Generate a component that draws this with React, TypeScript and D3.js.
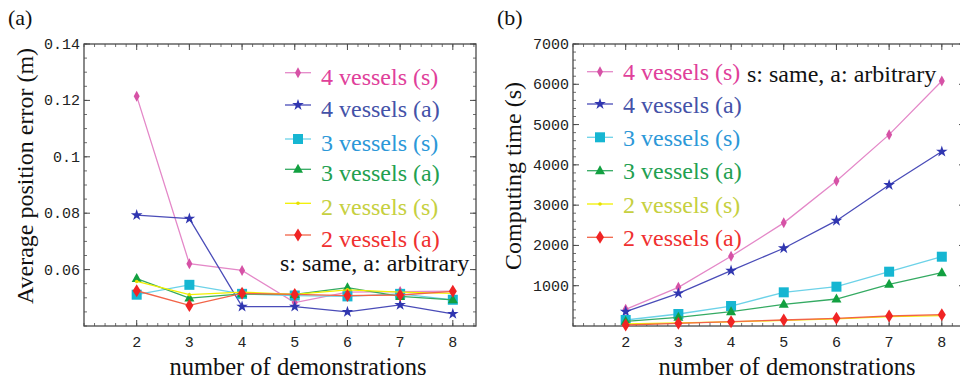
import React from 'react';
import * as d3 from 'd3';

// demonstrations on the x axis (both panels)
const demos = [2, 3, 4, 5, 6, 7, 8];

// (a) average position error (m)
const errPink4s = [0.1215, 0.0621, 0.0597, 0.0483, 0.052, 0.0522, 0.0524];
const errBlue4a = [0.0793, 0.0781, 0.0469, 0.0469, 0.045, 0.0475, 0.0443];
const errCyan3s = [0.0511, 0.0546, 0.0514, 0.0508, 0.0505, 0.0514, 0.0493];
const errGreen3a = [0.0568, 0.0499, 0.0514, 0.0512, 0.0536, 0.0505, 0.0493];
const errYellow2s = [0.0558, 0.0511, 0.052, 0.0512, 0.0528, 0.052, 0.0516];
const errRed2a = [0.0525, 0.0473, 0.0516, 0.0512, 0.0508, 0.051, 0.0523];

// (b) computing time (s)
const timePink4s = [414, 960, 1730, 2560, 3600, 4750, 6080];
const timeBlue4a = [356, 812, 1373, 1930, 2614, 3500, 4330];
const timeCyan3s = [149, 298, 496, 836, 976, 1348, 1720];
const timeGreen3a = [115, 215, 356, 538, 670, 1034, 1323];
const timeYellow2s = [50, 80, 100, 140, 175, 235, 256];
const timeRed2a = [25, 66, 107, 149, 190, 248, 281];

const seriesNames = ['4 vessels (s)', '4 vessels (a)', '3 vessels (s)', '3 vessels (a)', '2 vessels (s)', '2 vessels (a)'];
const errTicks = [0.06, 0.08, 0.1, 0.12, 0.14];
const timeTicks = [1000, 2000, 3000, 4000, 5000, 6000, 7000];

type Sty = { line: string; mark: string; text: string; shape: string };
const styles: Sty[] = [
  { line: '#e488c8', mark: '#d652a6', text: '#e0409a', shape: 'diamond' },
  { line: '#4a4cb8', mark: '#3036b0', text: '#4452a8', shape: 'star' },
  { line: '#6cd2e8', mark: '#16b6d2', text: '#2c98d8', shape: 'square' },
  { line: '#34aa62', mark: '#12a040', text: '#22a050', shape: 'triangle' },
  { line: '#f2f000', mark: '#e6e000', text: '#c6d040', shape: 'dot' },
  { line: '#f26448', mark: '#f02424', text: '#f03030', shape: 'bigdiamond' },
];

const serif: React.CSSProperties = { fontFamily: "'Liberation Serif', serif" };
const mono: React.CSSProperties = { fontFamily: "'Liberation Mono', monospace" };

function Marker({ shape, x, y, color }: { shape: string; x: number; y: number; color: string }) {
  if (shape === 'diamond')
    return <path d={`M${x},${y - 5.5}L${x + 3},${y}L${x},${y + 5.5}L${x - 3},${y}Z`} fill={color} />;
  if (shape === 'bigdiamond')
    return <path d={`M${x},${y - 6.5}L${x + 4},${y}L${x},${y + 6.5}L${x - 4},${y}Z`} fill={color} />;
  if (shape === 'square') return <rect x={x - 5} y={y - 5} width={10} height={10} fill={color} />;
  if (shape === 'triangle')
    return <path d={`M${x},${y - 5.5}L${x + 5},${y + 3.5}L${x - 5},${y + 3.5}Z`} fill={color} />;
  if (shape === 'star') {
    const p = d3.symbol().type(d3.symbolStar).size(42)();
    return <path d={p || ''} transform={`translate(${x},${y})`} fill={color} />;
  }
  return <circle cx={x} cy={y} r={1.8} fill={color} />;
}

type PanelProps = {
  x0: number;
  label: string;
  yTitle: string;
  yTitleX: number;
  series: number[][];
  yDomain: [number, number];
  yTicks: number[];
  yMinorStep: number;
  fmt: (v: number) => string;
  legendX: number;
  legendLines: number[];
  legendBaseOff: number;
  noteX: number;
  noteY: number;
};

function Panel(p: PanelProps) {
  const top = 44, bottom = 326, w = 392;
  const x = d3.scaleLinear().domain([1, 8.44]).range([p.x0, p.x0 + w]);
  const y = d3.scaleLinear().domain(p.yDomain).range([bottom, top]);
  const line = d3.line<number>().x((_, i) => x(demos[i])).y(d => y(d));
  const xMinor = d3.range(1, 8.44, 0.2);
  const yMinor = d3.range(p.yDomain[0], p.yDomain[1] + 1e-9, p.yMinorStep);
  const right = p.x0 + w;
  const frame = '#4a4a4a';
  return (
    <g>
      <text x={p.x0 - 76} y={25} style={serif} fontSize={22} fill="#111">{p.label}</text>
      <rect x={p.x0} y={top} width={w} height={bottom - top} fill="none" stroke={frame} strokeWidth={1.3} />
      {xMinor.map((v, i) => (
        <g key={'xm' + i} stroke={frame} strokeWidth={0.8}>
          <line x1={x(v)} x2={x(v)} y1={bottom} y2={bottom - 3} />
          <line x1={x(v)} x2={x(v)} y1={top} y2={top + 3} />
        </g>
      ))}
      {demos.map(v => (
        <g key={'xt' + v}>
          <line x1={x(v)} x2={x(v)} y1={bottom} y2={bottom - 6} stroke={frame} />
          <line x1={x(v)} x2={x(v)} y1={top} y2={top + 6} stroke={frame} />
          <text x={x(v)} y={347} textAnchor="middle" style={mono} fontSize={15} fill="#222">{v}</text>
        </g>
      ))}
      {yMinor.map((v, i) => (
        <g key={'ym' + i} stroke={frame} strokeWidth={0.8}>
          <line x1={p.x0} x2={p.x0 + 3} y1={y(v)} y2={y(v)} />
          <line x1={right} x2={right - 3} y1={y(v)} y2={y(v)} />
        </g>
      ))}
      {p.yTicks.map(v => (
        <g key={'yt' + v}>
          <line x1={p.x0} x2={p.x0 + 6} y1={y(v)} y2={y(v)} stroke={frame} />
          <line x1={right} x2={right - 6} y1={y(v)} y2={y(v)} stroke={frame} />
          <text x={p.x0 - 4} y={y(v) + 5} textAnchor="end" style={mono} fontSize={15} fill="#222">{p.fmt(v)}</text>
        </g>
      ))}
      <text x={p.x0 + 214} y={374.5} textAnchor="middle" style={serif} fontSize={24.5} fill="#111">number of demonstrations</text>
      <text transform={`translate(${p.yTitleX},176) rotate(-90)`} textAnchor="middle" dy="0.35em" style={serif} fontSize={24} fill="#111">{p.yTitle}</text>
      {p.series.map((s, k) => (
        <g key={'s' + k}>
          <path d={line(s) || ''} fill="none" stroke={styles[k].line} strokeWidth={1.3} />
          {s.map((v, i) => (
            <Marker key={i} shape={styles[k].shape} x={x(demos[i])} y={y(v)} color={styles[k].mark} />
          ))}
        </g>
      ))}
      {seriesNames.map((name, k) => {
        const ly = p.legendLines[k];
        return (
          <g key={'lg' + k}>
            <line x1={p.legendX} x2={p.legendX + 26} y1={ly} y2={ly} stroke={styles[k].line} strokeWidth={1.3} />
            <Marker shape={styles[k].shape} x={p.legendX + 13} y={ly} color={styles[k].mark} />
            <text x={p.legendX + 36} y={ly + p.legendBaseOff} style={serif} fontSize={24} fill={styles[k].text}>{name}</text>
          </g>
        );
      })}
      <text x={p.noteX} y={p.noteY} style={serif} fontSize={24} fill="#111">s: same, a: arbitrary</text>
    </g>
  );
}

export default function App() {
  return (
    <svg width={960} height={382} style={{ position: 'absolute', left: 0, top: 0, background: '#fff' }}>
      <Panel
        x0={84}
        label="(a)"
        yTitle="Average position error (m)"
        yTitleX={25}
        series={[errPink4s, errBlue4a, errCyan3s, errGreen3a, errYellow2s, errRed2a]}
        yDomain={[0.04, 0.14]}
        yTicks={errTicks}
        yMinorStep={0.005}
        fmt={v => d3.format('~g')(v)}
        legendX={285}
        legendLines={[72.7, 105, 139, 169.3, 203.3, 235]}
        legendBaseOff={12}
        noteX={280}
        noteY={271}
      />
      <Panel
        x0={573}
        label="(b)"
        yTitle="Computing time (s)"
        yTitleX={513}
        series={[timePink4s, timeBlue4a, timeCyan3s, timeGreen3a, timeYellow2s, timeRed2a]}
        yDomain={[0, 7000]}
        yTicks={timeTicks}
        yMinorStep={200}
        fmt={v => String(v)}
        legendX={587}
        legendLines={[71.7, 104, 137.3, 170.7, 204, 237.3]}
        legendBaseOff={8.5}
        noteX={747}
        noteY={81.7}
      />
    </svg>
  );
}
